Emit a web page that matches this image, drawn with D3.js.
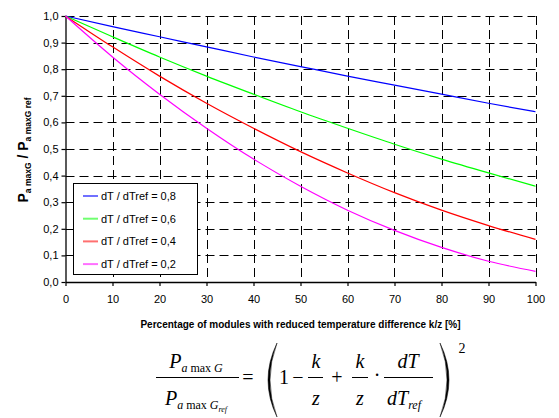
<!DOCTYPE html>
<html>
<head>
<meta charset="utf-8">
<script src="https://cdn.jsdelivr.net/npm/d3@7"></script>
<style>
  html, body { margin: 0; padding: 0; background: #fff; }
  svg { display: block; }
  .tick text { font-family: "Liberation Sans", Arial, sans-serif; font-size: 11px; fill: #000; }
  .grid line { stroke: #000; stroke-width: 1; stroke-dasharray: 9,5; }
  .formula text { font-family: "Liberation Serif", "Times New Roman", serif; fill: #000; }
</style>
</head>
<body>
<svg id="chart" width="559" height="418"></svg>
<script>
// values, at k/z = 0, 10, ... 100 %
const xValues = [0, 10, 20, 30, 40, 50, 60, 70, 80, 90, 100];
const ratio08 = [1.000, 0.960, 0.922, 0.884, 0.846, 0.810, 0.774, 0.740, 0.706, 0.672, 0.640];
const ratio06 = [1.000, 0.922, 0.846, 0.774, 0.706, 0.640, 0.578, 0.518, 0.462, 0.410, 0.360];
const ratio04 = [1.000, 0.884, 0.774, 0.672, 0.578, 0.490, 0.410, 0.336, 0.270, 0.212, 0.160];
const ratio02 = [1.000, 0.846, 0.706, 0.578, 0.462, 0.360, 0.270, 0.194, 0.130, 0.078, 0.040];

const seriesNames = ['dT / dTref = 0,8', 'dT / dTref = 0,6', 'dT / dTref = 0,4', 'dT / dTref = 0,2'];
const seriesColors = ['#0000ff', '#00ff00', '#ff0000', '#ff00ff'];
const legendColors = ['#7070ff', '#70ff70', '#ff7070', '#ff70ff'];
const seriesValues = [ratio08, ratio06, ratio04, ratio02];

const xTicks = [0, 10, 20, 30, 40, 50, 60, 70, 80, 90, 100];
const yTicks = [0, 0.1, 0.2, 0.3, 0.4, 0.5, 0.6, 0.7, 0.8, 0.9, 1.0];

const svg = d3.select('#chart');
const mLeft = 65.5, mTop = 16, w = 470, h = 266;

const x = d3.scaleLinear().domain([0, 100]).range([mLeft, mLeft + w]);
const y = d3.scaleLinear().domain([0, 1]).range([mTop + h, mTop]);

// dashed grid
const grid = svg.append('g').attr('class', 'grid');
grid.selectAll('line.v').data(xTicks.slice(1)).enter().append('line')
  .attr('x1', d => Math.round(x(d)) + 0.5).attr('x2', d => Math.round(x(d)) + 0.5)
  .attr('y1', mTop).attr('y2', mTop + h);
grid.selectAll('line.h').data(yTicks.slice(1)).enter().append('line')
  .attr('y1', d => Math.round(y(d)) + 0.5).attr('y2', d => Math.round(y(d)) + 0.5)
  .attr('x1', mLeft).attr('x2', mLeft + w);

// axes
const yAxis = svg.append('g')
  .attr('transform', `translate(${mLeft},0)`)
  .call(d3.axisLeft(y).tickValues(yTicks).tickSize(4).tickSizeOuter(0).tickPadding(3)
    .tickFormat(d => d.toFixed(1).replace('.', ',')));
const xAxis = svg.append('g')
  .attr('transform', `translate(0,${mTop + h})`)
  .call(d3.axisBottom(x).tickValues(xTicks).tickSize(4).tickSizeOuter(0).tickPadding(9)
    .tickFormat(d => d));
[yAxis, xAxis].forEach(a => {
  a.select('.domain').attr('stroke', '#000').attr('stroke-width', 1.3);
  a.selectAll('.tick line').attr('stroke', '#000').attr('stroke-width', 1.2);
});

// curves
const line = d3.line()
  .x((d, i) => x(xValues[i]))
  .y(d => y(d))
  .curve(d3.curveMonotoneX);
svg.append('g').selectAll('path').data(seriesValues).enter().append('path')
  .attr('d', d => line(d))
  .attr('fill', 'none')
  .attr('stroke', (d, i) => seriesColors[i])
  .attr('stroke-width', 1.2);

// legend
const lg = svg.append('g');
lg.append('rect')
  .attr('x', 73.5).attr('y', 183.5).attr('width', 124).attr('height', 91)
  .attr('fill', '#fff').attr('stroke', '#000').attr('stroke-width', 1);
seriesNames.forEach((name, i) => {
  const cy = 196 + i * 22.7;
  lg.append('line')
    .attr('x1', 83).attr('x2', 98).attr('y1', cy).attr('y2', cy)
    .attr('stroke', legendColors[i]).attr('stroke-width', 2);
  lg.append('text')
    .attr('x', 101).attr('y', cy + 4)
    .attr('font-family', '"Liberation Sans", Arial, sans-serif')
    .attr('font-size', 11)
    .text(name);
});

// axis titles
svg.append('text')
  .attr('x', mLeft + w / 2).attr('y', 328)
  .attr('text-anchor', 'middle')
  .attr('font-family', '"Liberation Sans", Arial, sans-serif')
  .attr('font-size', 10).attr('font-weight', 'bold')
  .text('Percentage of modules with reduced temperature difference k/z [%]');

const yt = svg.append('text')
  .attr('transform', 'translate(28,150) rotate(-90)')
  .attr('text-anchor', 'middle')
  .attr('font-family', '"Liberation Sans", Arial, sans-serif')
  .attr('font-weight', 'bold');
yt.append('tspan').attr('font-size', 14).text('P');
yt.append('tspan').attr('font-size', 8.5).attr('dy', 3).text('a maxG');
yt.append('tspan').attr('font-size', 14).attr('dy', -3).text(' / P');
yt.append('tspan').attr('font-size', 8.5).attr('dy', 3).text('a maxG ref');

// formula
const f = svg.append('g').attr('class', 'formula');
function fracLine(x1, x2) {
  f.append('line').attr('x1', x1).attr('x2', x2).attr('y1', 377.5).attr('y2', 377.5)
    .attr('stroke', '#000').attr('stroke-width', 1);
}
function pSub(cx, by, withRef) {
  const t = f.append('text').attr('x', cx).attr('y', by).attr('text-anchor', 'middle');
  t.append('tspan').attr('font-size', 20).attr('font-style', 'italic').text('P');
  t.append('tspan').attr('font-size', 12).attr('font-style', 'italic').attr('dy', 4).text('a');
  t.append('tspan').attr('font-size', 12).text(' max ');
  t.append('tspan').attr('font-size', 12).attr('font-style', 'italic').text('G');
  if (withRef) {
    t.append('tspan').attr('font-size', 8).attr('font-style', 'italic').attr('dy', 3).text('ref');
  }
}
pSub(196, 368, false);
fracLine(156, 239);
pSub(196, 405, true);

function sym(cx, by, s, size, italic) {
  f.append('text').attr('x', cx).attr('y', by).attr('text-anchor', 'middle')
    .attr('font-size', size).attr('font-style', italic ? 'italic' : 'normal').text(s);
}
sym(248, 384, '=', 20);
// big parentheses
f.append('path').attr('d', 'M277,343 Q259,380 277,417 Q263,380 277,343 Z').attr('fill', '#000').attr('stroke', '#000').attr('stroke-width', 0.5);
f.append('path').attr('d', 'M440,343 Q458,380 440,417 Q454,380 440,343 Z').attr('fill', '#000').attr('stroke', '#000').attr('stroke-width', 0.5);
sym(284, 384, '1', 20);
sym(298, 384, '\u2212', 20);
sym(316, 368, 'k', 20, true);
fracLine(308, 323);
sym(316, 405, 'z', 20, true);
sym(337, 384, '+', 20);
sym(360, 368, 'k', 20, true);
fracLine(352, 368);
sym(360, 405, 'z', 20, true);
sym(377, 382, '\u00b7', 20);
sym(408, 368, 'dT', 20, true);
fracLine(384, 433);
const dt = f.append('text').attr('x', 387).attr('y', 405);
dt.append('tspan').attr('font-size', 20).attr('font-style', 'italic').text('dT');
dt.append('tspan').attr('font-size', 12).attr('font-style', 'italic').attr('dy', 4).text('ref');
sym(462, 353, '2', 14);
</script>
</body>
</html>
